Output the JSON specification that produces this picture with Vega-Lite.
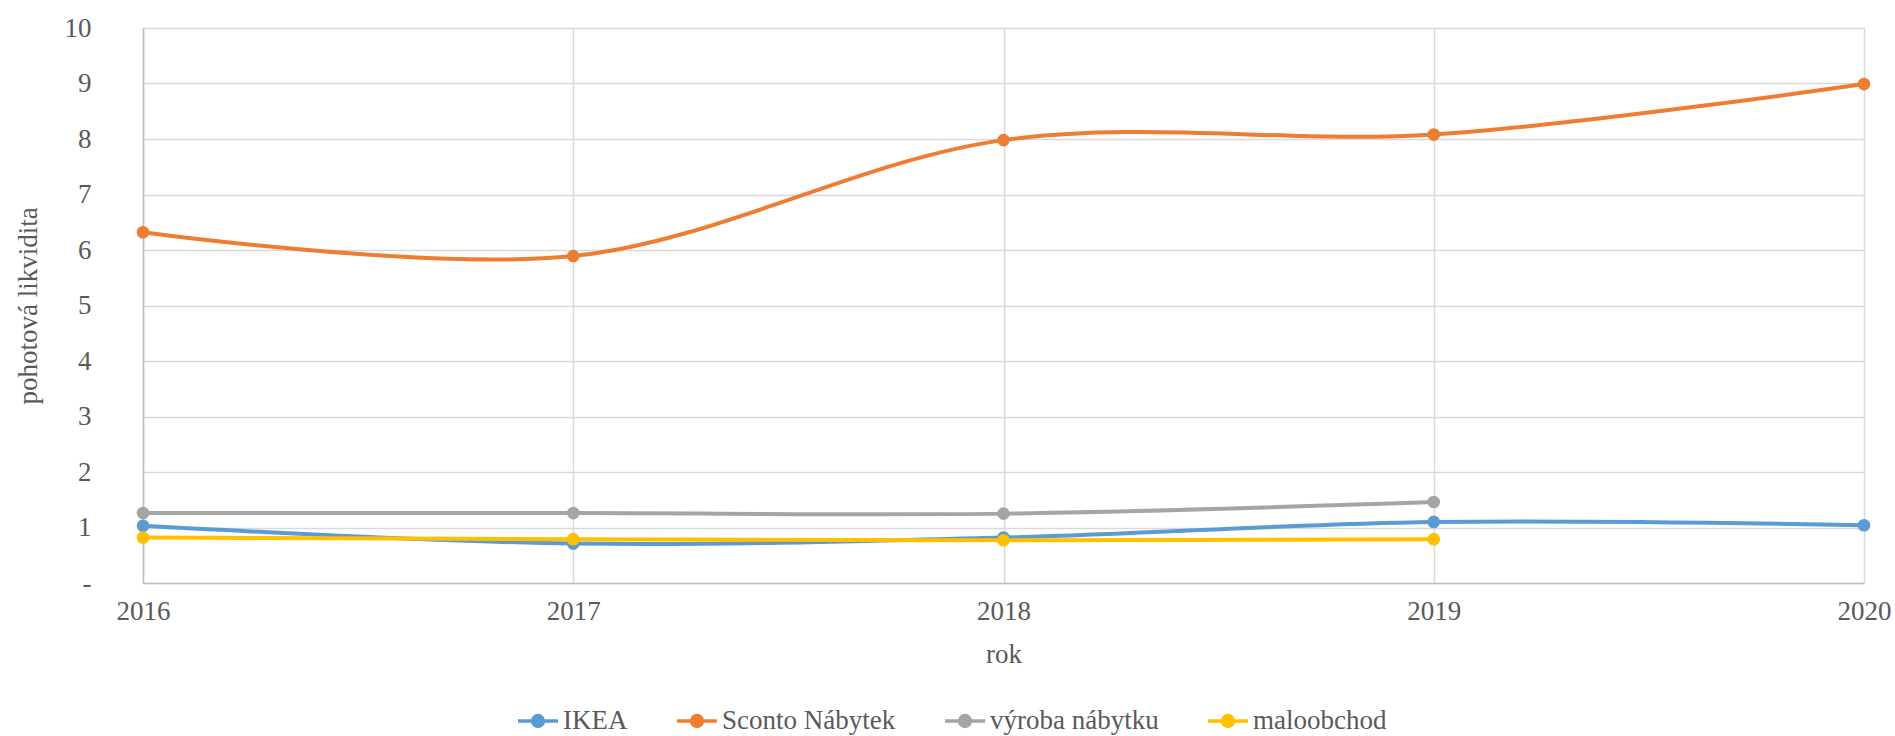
{
  "$schema": "https://vega.github.io/schema/vega-lite/v6.json",
  "autosize": "none",
  "width": 1721,
  "height": 555,
  "padding": {"left": 143, "top": 28, "right": 31, "bottom": 153},
  "background": "white",
  "config": {
    "view": {"stroke": null},
    "font": "Liberation Serif"
  },
  "data": {
    "values": [
      {"rok": 2016, "firma": "IKEA", "hodnota": 1.03},
      {"rok": 2017, "firma": "IKEA", "hodnota": 0.71},
      {"rok": 2018, "firma": "IKEA", "hodnota": 0.82},
      {"rok": 2019, "firma": "IKEA", "hodnota": 1.10},
      {"rok": 2020, "firma": "IKEA", "hodnota": 1.04},
      {"rok": 2016, "firma": "Sconto Nábytek", "hodnota": 6.32},
      {"rok": 2017, "firma": "Sconto Nábytek", "hodnota": 5.89},
      {"rok": 2018, "firma": "Sconto Nábytek", "hodnota": 7.98},
      {"rok": 2019, "firma": "Sconto Nábytek", "hodnota": 8.08},
      {"rok": 2020, "firma": "Sconto Nábytek", "hodnota": 8.99},
      {"rok": 2016, "firma": "výroba nábytku", "hodnota": 1.26},
      {"rok": 2017, "firma": "výroba nábytku", "hodnota": 1.26},
      {"rok": 2018, "firma": "výroba nábytku", "hodnota": 1.25},
      {"rok": 2019, "firma": "výroba nábytku", "hodnota": 1.46},
      {"rok": 2016, "firma": "maloobchod", "hodnota": 0.82},
      {"rok": 2017, "firma": "maloobchod", "hodnota": 0.79},
      {"rok": 2018, "firma": "maloobchod", "hodnota": 0.77},
      {"rok": 2019, "firma": "maloobchod", "hodnota": 0.79}
    ]
  },
  "encoding": {
    "x": {
      "field": "rok", "type": "quantitative",
      "scale": {"domain": [2016, 2020], "nice": false, "zero": false},
      "axis": {
        "title": "rok", "values": [2016, 2017, 2018, 2019, 2020], "format": "d",
        "labelFlush": false, "labelOverlap": false,
        "grid": true, "gridColor": "#d9d9d9", "gridWidth": 1.5,
        "domainColor": "#bfbfbf", "domainWidth": 1.5, "ticks": false,
        "labelFontSize": 27, "labelColor": "#595959", "labelPadding": 15,
        "labelFont": "Liberation Serif",
        "titleFontSize": 27, "titleColor": "#595959", "titleFontWeight": "normal",
        "titlePadding": 17, "titleFont": "Liberation Serif"
      }
    },
    "y": {
      "field": "hodnota", "type": "quantitative",
      "scale": {"domain": [0, 10], "nice": false},
      "axis": {
        "title": "pohotová likvidita", "values": [0, 1, 2, 3, 4, 5, 6, 7, 8, 9, 10],
        "labelExpr": "datum.value == 0 ? '-' : datum.label",
        "labelFlush": false, "labelOverlap": false,
        "grid": true, "gridColor": "#d9d9d9", "gridWidth": 1.5,
        "domainColor": "#bfbfbf", "domainWidth": 1.5, "ticks": false,
        "labelFontSize": 27, "labelColor": "#595959", "labelPadding": 52,
        "labelFont": "Liberation Serif",
        "titleFontSize": 27, "titleColor": "#595959", "titleFontWeight": "normal",
        "titlePadding": 22, "titleFont": "Liberation Serif"
      }
    },
    "color": {
      "field": "firma", "type": "nominal",
      "scale": {
        "domain": ["IKEA", "Sconto Nábytek", "výroba nábytku", "maloobchod"],
        "range": ["#5B9BD5", "#ED7D31", "#A5A5A5", "#FFC000"]
      },
      "legend": {
        "orient": "none", "legendX": 373, "legendY": 671,
        "direction": "horizontal", "title": null,
        "symbolType": "M-1,0L1,0M-0.27,0A0.27,0.27,0,1,1,0.27,0A0.27,0.27,0,1,1,-0.27,0",
        "symbolSize": 1600, "symbolStrokeWidth": 3.5,
        "labelFontSize": 27, "labelFont": "Liberation Serif", "labelColor": "#595959",
        "labelLimit": 0,
        "columnPadding": 42, "labelOffset": 3,
        "encode": {
          "symbols": {
            "update": {
              "fill": {"scale": "color", "field": "value"},
              "stroke": {"scale": "color", "field": "value"},
              "opacity": {"value": 1}
            }
          }
        }
      }
    }
  },
  "layer": [
    {
      "mark": {"type": "line", "interpolate": "catmull-rom", "strokeWidth": 4}
    },
    {
      "mark": {"type": "point", "filled": true, "size": 160, "opacity": 1}
    }
  ]
}
